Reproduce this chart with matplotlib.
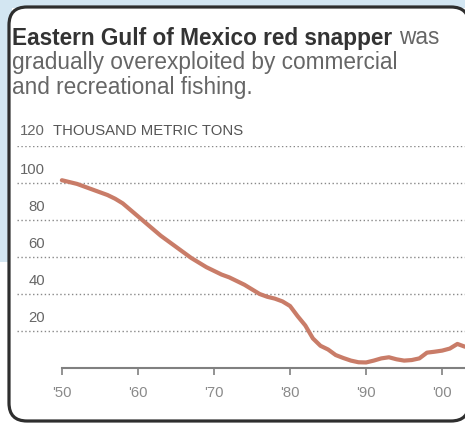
import matplotlib
matplotlib.use("Agg")
import matplotlib.pyplot as plt
from matplotlib.patches import Rectangle, FancyBboxPatch
from matplotlib.transforms import IdentityTransform, blended_transform_factory, offset_copy

plt.rcParams["font.family"] = ["Liberation Sans", "DejaVu Sans"]

# data: eastern Gulf of Mexico red snapper, thousand metric tons
years = list(range(1950, 2004))
biomass = [101.5, 100.5, 99.5, 98, 96.5, 95, 93.5, 91.5, 89, 85.5,
           82, 78.5, 75, 71.5, 68.5, 65.5, 62.5, 59.5, 57, 54.5,
           52.5, 50.5, 49, 47, 45, 42.5, 40, 38.5, 37.5, 36,
           33.5, 28, 23, 16, 12, 10, 7, 5.4, 4, 3.1,
           3, 4, 5.2, 5.8, 4.7, 4, 4.3, 5.2, 8.3, 8.8,
           9.4, 10.5, 13, 11.5]
ytick_vals = [20, 40, 60, 80, 100, 120]
xtick_vals = [1950, 1960, 1970, 1980, 1990, 2000]
xtick_labels = ["'50", "'60", "'70", "'80", "'90", "'00"]

W, H = 465, 425
fig = plt.figure(figsize=(W / 100, H / 100), dpi=100)
fig.patch.set_facecolor("white")

# light blue page behind the card
blue = "#d3e6f2"
fig.add_artist(Rectangle((0, H - 8), W, 8, transform=IdentityTransform(),
                         facecolor=blue, edgecolor="none", zorder=-3))
fig.add_artist(Rectangle((0, H - 262), 12, 262, transform=IdentityTransform(),
                         facecolor=blue, edgecolor="none", zorder=-3))
card = FancyBboxPatch((9, 4), 460, 414, boxstyle="round,pad=0,rounding_size=18",
                      transform=IdentityTransform(), facecolor="white",
                      edgecolor="#2e2e2e", linewidth=2.3, zorder=-2)
fig.add_artist(card)

# headline
hs = 16.3
bold = fig.text(12 / W, 1 - 44.5 / H, "Eastern Gulf of Mexico red snapper",
                fontsize=hs, fontweight="bold", color="#333333", va="baseline")
fig.canvas.draw()
bb = bold.get_window_extent(renderer=fig.canvas.get_renderer())
fig.text(bb.x1 / W + 7 / W, 1 - 44.5 / H, "was", fontsize=hs, color="#666666", va="baseline")
fig.text(12 / W, 1 - 69 / H, "gradually overexploited by commercial",
         fontsize=hs, color="#666666", va="baseline")
fig.text(12 / W, 1 - 94 / H, "and recreational fishing.",
         fontsize=hs, color="#666666", va="baseline")

ax = fig.add_axes([17 / W, 57 / H, 448 / W, 222 / H])
ax.set_facecolor("none")
ax.set_xlim(1944.1, 2003.0)
ax.set_ylim(0, 120)

ax.plot(years, biomass, color="#c97c68", linewidth=3.0, solid_capstyle="round",
        solid_joinstyle="round", zorder=3, clip_on=False)

for v in ytick_vals:
    ax.axhline(v, color="#888888", linewidth=1.0, linestyle=(0, (1, 1.8)), zorder=1)

for s in ["left", "right", "top"]:
    ax.spines[s].set_visible(False)
ax.spines["bottom"].set_bounds(1950, 2003)
ax.spines["bottom"].set_color("#808080")
ax.spines["bottom"].set_linewidth(1.5)

ax.set_yticks([])
ax.set_xticks(xtick_vals)
ax.set_xticklabels(xtick_labels, fontsize=10.7, color="#8a8a8a")
ax.tick_params(axis="x", direction="out", length=5, width=1.2, color="#808080", pad=8)

trans = blended_transform_factory(ax.transAxes, ax.transData)
lab_x = (45 - 17) / 448
for v in ytick_vals:
    t = offset_copy(trans, fig=fig, x=0, y=15 if v == 120 else 13, units="dots")
    ax.text(lab_x, v, str(v), transform=t, ha="right", va="center",
            fontsize=10.7, color="#666666")
t120 = offset_copy(trans, fig=fig, x=0, y=15, units="dots")
ax.text((53 - 17) / 448, 120, "THOUSAND METRIC TONS", transform=t120,
        ha="left", va="center", fontsize=10.7, color="#555555")

fig.savefig("out.png", dpi=100)
